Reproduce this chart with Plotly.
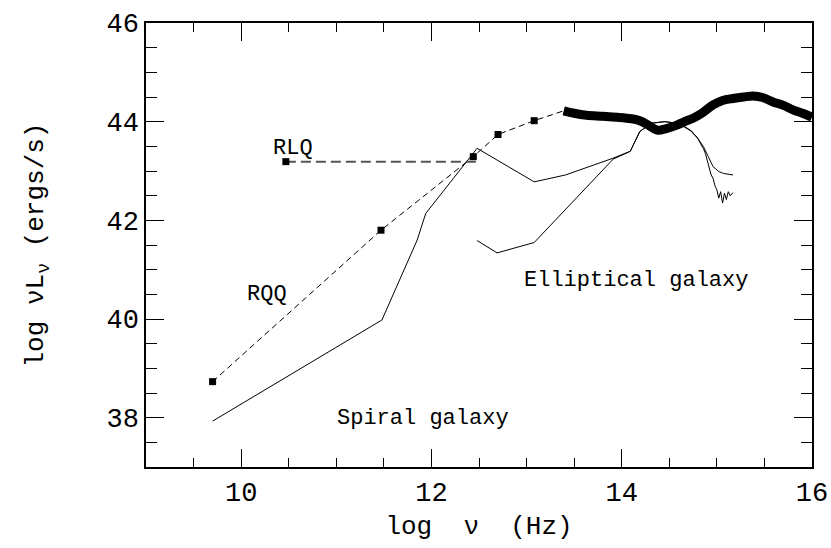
import plotly.graph_objects as go

# RQQ (radio-quiet quasar) dashed SED with square markers
rqq_x = [9.70, 11.47, 12.44, 12.70, 13.08, 13.39]
rqq_y = [38.73, 41.80, 43.29, 43.74, 44.02, 44.22]
rqq_marker_x = [9.70, 11.47, 12.44, 12.70, 13.08]
rqq_marker_y = [38.73, 41.80, 43.29, 43.74, 44.02]

# RLQ (radio-loud quasar) extension
rlq_x = [10.47, 12.48]
rlq_y = [43.19, 43.19]

# Thick quasar continuum
qso_x = [13.39, 13.50, 13.63, 13.80, 13.95, 14.10, 14.19, 14.28, 14.37, 14.47, 14.58, 14.66,
         14.75, 14.85, 14.96, 15.06, 15.17, 15.28, 15.38, 15.48, 15.59, 15.70, 15.80, 15.90, 16.00]
qso_y = [44.22, 44.17, 44.13, 44.11, 44.09, 44.06, 44.02, 43.93, 43.83, 43.86, 43.93, 44.00,
         44.07, 44.18, 44.34, 44.43, 44.47, 44.50, 44.52, 44.49, 44.40, 44.33, 44.24, 44.17, 44.09]

# Spiral galaxy SED
spiral_x = [9.70, 11.48, 11.85, 11.94, 12.48, 13.08, 13.41, 13.91, 14.09, 14.19, 14.24, 14.32,
            14.45, 14.58, 14.65, 14.72, 14.79, 14.86, 14.91, 14.96, 15.02, 15.07, 15.17]
spiral_y = [37.93, 39.98, 41.60, 42.14, 43.46, 42.78, 42.92, 43.26, 43.40, 43.80, 43.87, 43.97,
            44.00, 43.97, 43.90, 43.82, 43.69, 43.49, 43.29, 43.09, 42.99, 42.95, 42.92]

# Elliptical galaxy SED
ell_x = [12.48, 12.69, 13.08, 13.91, 14.09, 14.19, 14.24, 14.32, 14.45, 14.58, 14.65, 14.70,
         14.74, 14.77, 14.80, 14.83, 14.86, 14.88, 14.90, 14.92, 14.94, 14.96, 14.98, 15.00,
         15.02, 15.04, 15.06, 15.08, 15.10, 15.12, 15.14, 15.17]
ell_y = [41.59, 41.34, 41.55, 43.24, 43.40, 43.80, 43.87, 43.97, 44.00, 43.97, 43.92, 43.85,
         43.80, 43.72, 43.66, 43.55, 43.45, 43.35, 43.20, 43.08, 42.92, 42.85, 42.70, 42.62,
         42.45, 42.58, 42.35, 42.55, 42.42, 42.58, 42.50, 42.56]

labels = ["RLQ", "RQQ", "Elliptical galaxy", "Spiral galaxy"]
label_x = [10.55, 10.27, 14.15, 11.91]
label_y = [43.46, 40.50, 40.79, 37.99]

FONT = "Liberation Mono"

fig = go.Figure()
fig.add_trace(go.Scatter(x=spiral_x, y=spiral_y, mode="lines",
                         line=dict(color="black", width=1), hoverinfo="skip"))
fig.add_trace(go.Scatter(x=ell_x, y=ell_y, mode="lines",
                         line=dict(color="black", width=1), hoverinfo="skip"))
fig.add_trace(go.Scatter(x=rlq_x, y=rlq_y, mode="lines",
                         line=dict(color="#555555", width=2, dash="10px,5px")))
fig.add_trace(go.Scatter(x=rlq_x[:1], y=rlq_y[:1], mode="markers",
                         marker=dict(symbol="square", size=7, color="black")))
fig.add_trace(go.Scatter(x=rqq_x, y=rqq_y, mode="lines",
                         line=dict(color="black", width=1, dash="6px,4px")))
fig.add_trace(go.Scatter(x=rqq_marker_x, y=rqq_marker_y, mode="markers",
                         marker=dict(symbol="square", size=7, color="black")))
fig.add_trace(go.Scatter(x=qso_x, y=qso_y, mode="lines", line_shape="spline",
                         line=dict(color="black", width=9)))

for t, x, y in zip(labels, label_x, label_y):
    fig.add_annotation(x=x, y=y, text=t, showarrow=False,
                       font=dict(family=FONT, size=22, color="black"))

axis_common = dict(showgrid=False, zeroline=False, showline=True, linecolor="black",
                   linewidth=1.5, mirror="allticks", ticks="inside", ticklen=18,
                   tickwidth=1, tickcolor="black", automargin=False,
                   tickfont=dict(family=FONT, size=27, color="black"))

fig.update_xaxes(range=[9, 16], tickvals=[10, 12, 14, 16], ticktext=["10", "12", "14", "16"],
                 minor=dict(dtick=0.5, tick0=9, ticks="inside", ticklen=9, tickcolor="black"),
                 title=dict(text="log  ν  (Hz)", font=dict(family=FONT, size=26, color="black"),
                            standoff=8),
                 **axis_common)
fig.update_yaxes(range=[37, 46], tickvals=[38, 40, 42, 44, 46],
                 ticktext=["38", "40", "42", "44", "46"],
                 minor=dict(dtick=0.5, tick0=37, ticks="inside", ticklen=11, tickcolor="black"),
                 title=dict(text="log νL<sub>ν</sub> (ergs/s)",
                            font=dict(family=FONT, size=26, color="black"), standoff=55),
                 **axis_common)

fig.update_layout(width=831, height=548, showlegend=False,
                  plot_bgcolor="white", paper_bgcolor="white",
                  margin=dict(l=146, r=19, t=23, b=81))

fig.write_html("out.html", config={"displayModeBar": False},
               post_script="document.body.style.margin='0';document.body.style.overflow='hidden';")
